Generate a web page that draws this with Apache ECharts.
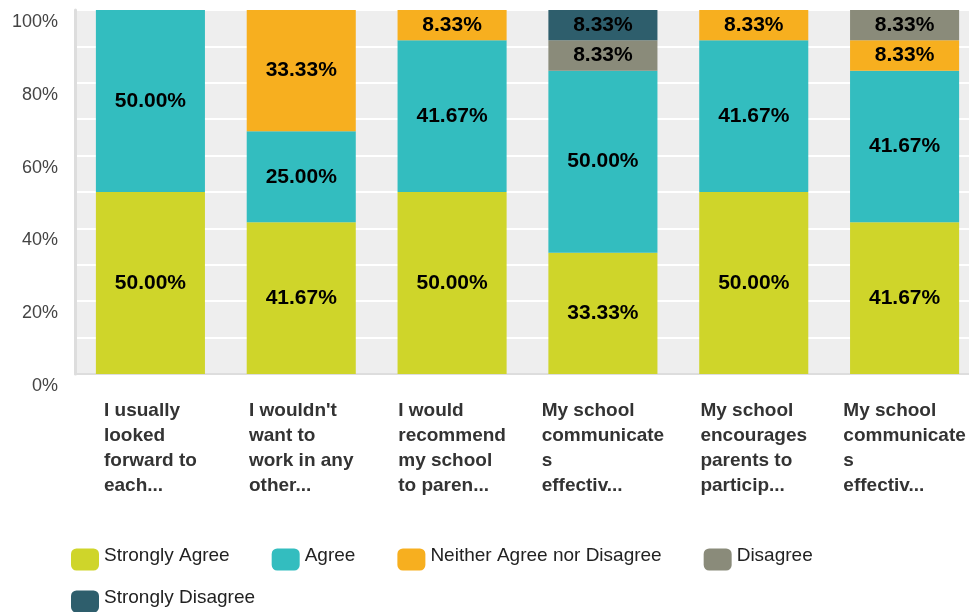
<!DOCTYPE html>
<html>
<head>
<meta charset="utf-8">
<script src="https://cdn.jsdelivr.net/npm/echarts@6/dist/echarts.min.js"></script>
<style>
html,body{margin:0;padding:0;background:#fff;overflow:hidden;}
#chart{width:980px;height:612px;}
</style>
</head>
<body>
<div id="chart"></div>
<script>
const categories = [
  "I usually\nlooked\nforward to\neach...",
  "I wouldn't\nwant to\nwork in any\nother...",
  "I would\nrecommend\nmy school\nto paren...",
  "My school\ncommunicate\ns\neffectiv...",
  "My school\nencourages\nparents to\nparticip...",
  "My school\ncommunicate\ns\neffectiv..."
];
const seriesNames = ["Strongly Agree", "Agree", "Neither Agree nor Disagree", "Disagree", "Strongly Disagree"];
const stronglyAgree = [50.00, 41.67, 50.00, 33.33, 50.00, 41.67];
const agree = [50.00, 25.00, 41.67, 50.00, 41.67, 41.67];
const neither = [0, 33.33, 8.33, 0, 8.33, 8.33];
const disagree = [0, 0, 0, 8.33, 0, 8.33];
const stronglyDisagree = [0, 0, 0, 8.33, 0, 0];
const yTicks = [0, 20, 40, 60, 80, 100];

const colors = ["#cfd52a", "#33bdbf", "#f7af1f", "#8a8b7a", "#2e5e6c"];
const FONT = "'Liberation Sans', Arial, Helvetica, sans-serif";
const values = [stronglyAgree, agree, neither, disagree, stronglyDisagree];

const chart = echarts.init(document.getElementById('chart'), null, {renderer: 'canvas'});

const series = seriesNames.map((name, i) => ({
  name: name,
  type: 'bar',
  stack: 'total',
  barWidth: '72.3%',
  itemStyle: {color: colors[i]},
  emphasis: {disabled: true},
  label: {
    show: true,
    position: 'inside',
    color: '#000',
    fontFamily: FONT,
    fontWeight: 'bold',
    fontSize: 21,
    padding: [3, 0, 0, 0],
    formatter: p => (p.value ? p.value.toFixed(2) + '%' : '')
  },
  data: values[i]
}));

const legendBase = {
  orient: 'horizontal',
  padding: 0,
  itemWidth: 28, itemHeight: 22, itemGap: 42,
  icon: 'roundRect',
  selectedMode: false,
  formatter: n => '{t|' + n + '}',
  textStyle: {
    fontSize: 19, color: '#222', fontFamily: FONT,
    rich: {t: {fontSize: 19, color: '#222', fontFamily: FONT, padding: [0, 0, 8, 0]}}
  }
};

chart.setOption({
  animation: false,
  textStyle: {fontFamily: FONT},
  grid: {left: 75, top: 10, right: 0, bottom: 238, show: true, backgroundColor: '#eeeeee', borderWidth: 0, containLabel: false},
  legend: [
    Object.assign({}, legendBase, {left: 71, top: 546, data: seriesNames.slice(0, 4)}),
    Object.assign({}, legendBase, {left: 71, top: 588, data: seriesNames.slice(4)})
  ],
  xAxis: {
    type: 'category',
    data: categories,
    axisTick: {show: false},
    axisLine: {show: true, lineStyle: {color: '#dddddd', width: 2}},
    axisLabel: {
      interval: 0,
      margin: 24,
      color: '#333',
      fontFamily: FONT,
      fontWeight: 'bold',
      fontSize: 19,
      lineHeight: 25,
      formatter: v => v.split('\n').map(l => '{a|' + l + '}').join('\n'),
      rich: {a: {align: 'left', fontWeight: 'bold', fontSize: 19, lineHeight: 25, color: '#333', fontFamily: FONT}}
    }
  },
  yAxis: {
    type: 'value',
    min: 0, max: 100, interval: 10,
    axisTick: {show: false},
    axisLine: {show: true, lineStyle: {color: '#dddddd', width: 3}},
    splitLine: {show: true, lineStyle: {color: '#ffffff', width: 2}},
    axisLabel: {
      margin: 17,
      color: '#444',
      fontSize: 18,
      fontFamily: FONT,
      verticalAlign: 'top',
      padding: [3, 0, 0, 0],
      formatter: v => (yTicks.indexOf(v) >= 0 ? v + '%' : '')
    }
  },
  series: series
});
</script>
</body>
</html>
